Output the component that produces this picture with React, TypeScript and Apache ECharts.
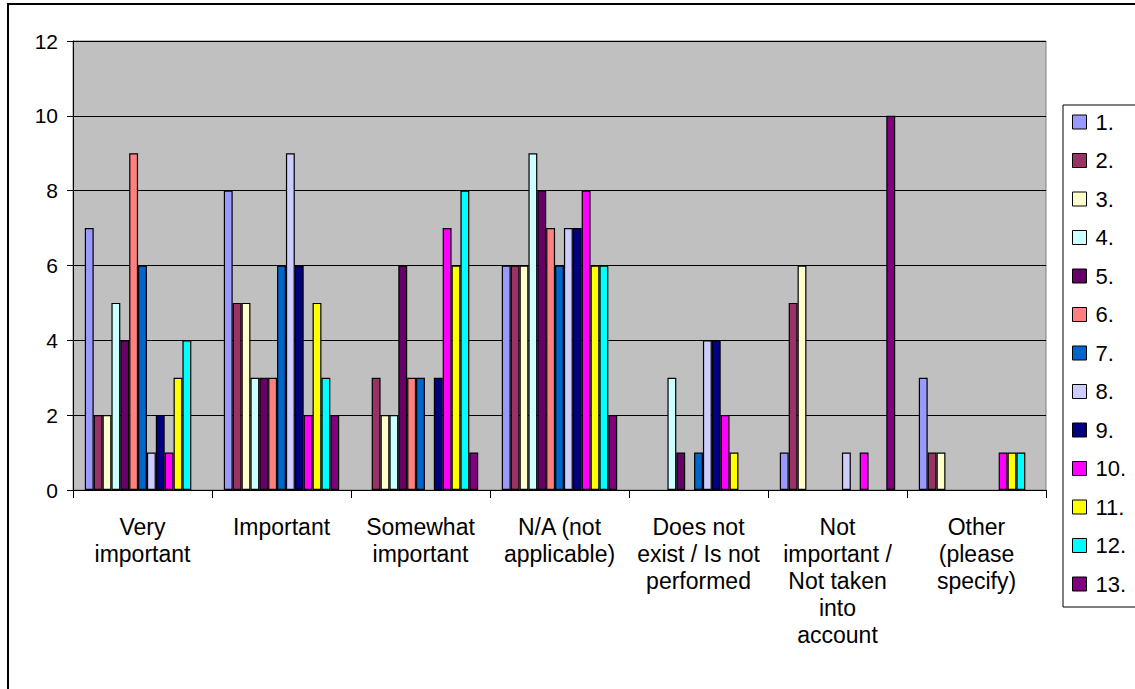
import React, { useEffect, useRef } from "react";
import * as echarts from "echarts";

const categories = [
  "Very\nimportant",
  "Important",
  "Somewhat\nimportant",
  "N/A (not\napplicable)",
  "Does not\nexist / Is not\nperformed",
  "Not\nimportant /\nNot taken\ninto\naccount",
  "Other\n(please\nspecify)",
];

const seriesNames = ["1.", "2.", "3.", "4.", "5.", "6.", "7.", "8.", "9.", "10.", "11.", "12.", "13."];

const s1 = [7, 8, 0, 6, 0, 1, 3];
const s2 = [2, 5, 3, 6, 0, 5, 1];
const s3 = [2, 5, 2, 6, 0, 6, 1];
const s4 = [5, 3, 2, 9, 3, 0, 0];
const s5 = [4, 3, 6, 8, 1, 0, 0];
const s6 = [9, 3, 3, 7, 0, 0, 0];
const s7 = [6, 6, 3, 6, 1, 0, 0];
const s8 = [1, 9, 0, 7, 4, 1, 0];
const s9 = [2, 6, 3, 7, 4, 0, 0];
const s10 = [1, 2, 7, 8, 2, 1, 1];
const s11 = [3, 5, 6, 6, 1, 0, 1];
const s12 = [4, 3, 8, 6, 0, 0, 1];
const s13 = [0, 2, 1, 2, 0, 10, 0];

const seriesValues = [s1, s2, s3, s4, s5, s6, s7, s8, s9, s10, s11, s12, s13];

const colors = [
  "#9999FF", "#993366", "#FFFFCC", "#CCFFFF", "#660066", "#FF8080", "#0066CC",
  "#CCCCFF", "#000080", "#FF00FF", "#FFFF00", "#00FFFF", "#800080",
];

const yTicks = [0, 2, 4, 6, 8, 10, 12];

export default function App() {
  const ref = useRef<HTMLDivElement>(null);
  useEffect(() => {
    if (!ref.current) return;
    const chart = echarts.init(ref.current, null, { renderer: "svg" });
    const font = "Liberation Sans, Arial, sans-serif";
    chart.setOption({
      animation: false,
      backgroundColor: "#ffffff",
      color: colors,
      textStyle: { fontFamily: font },
      grid: {
        left: 73,
        top: 41,
        right: 89,
        bottom: 199,
        show: true,
        backgroundColor: "#C0C0C0",
        borderColor: "#808080",
        borderWidth: 1,
      },
      graphic: [
        {
          type: "rect",
          shape: { x: 8, y: 4, width: 1140, height: 700 },
          style: { fill: "none", stroke: "#000", lineWidth: 2 },
          silent: true,
          z: 100,
        },
      ],
      legend: {
        orient: "vertical",
        left: 1063,
        top: 105,
        itemWidth: 14,
        itemHeight: 14,
        itemGap: 16.5,
        padding: [6, 30, 12, 9],
        borderColor: "#000",
        borderWidth: 1,
        backgroundColor: "#fff",
        textStyle: { fontSize: 22, color: "#000", fontFamily: font, padding: [0, 0, 0, 4] },
        itemStyle: { borderColor: "#000", borderWidth: 1 },
        data: seriesNames.map((n) => ({ name: n, icon: "rect" })),
      },
      xAxis: {
        type: "category",
        data: categories,
        axisLine: { lineStyle: { color: "#000", width: 1 } },
        axisTick: { show: true, length: 8, lineStyle: { color: "#000" }, alignWithLabel: false },
        axisLabel: {
          color: "#000",
          fontSize: 23,
          lineHeight: 27,
          margin: 23,
          interval: 0,
          fontFamily: font,
        },
      },
      yAxis: {
        type: "value",
        min: 0,
        max: 12,
        interval: 2,
        axisLine: { show: true, lineStyle: { color: "#000" } },
        axisTick: { show: true, length: 6, lineStyle: { color: "#000" } },
        axisLabel: {
          color: "#000",
          fontSize: 21,
          margin: 15,
          fontFamily: font,
          formatter: (v: number) => (yTicks.includes(v) ? String(v) : ""),
        },
        splitLine: { show: true, lineStyle: { color: "#000", width: 1 } },
      },
      series: seriesNames.map((name, i) => ({
        name,
        type: "bar",
        data: seriesValues[i].map((v) => (v === 0 ? null : v)),
        barGap: "0%",
        barCategoryGap: "17%",
        itemStyle: { color: colors[i], borderColor: "#000", borderWidth: 1.2 },
      })),
    });
    return () => chart.dispose();
  }, []);
  return (
    <div
      ref={ref}
      style={{ position: "absolute", left: 0, top: 0, width: 1135, height: 689 }}
    />
  );
}
